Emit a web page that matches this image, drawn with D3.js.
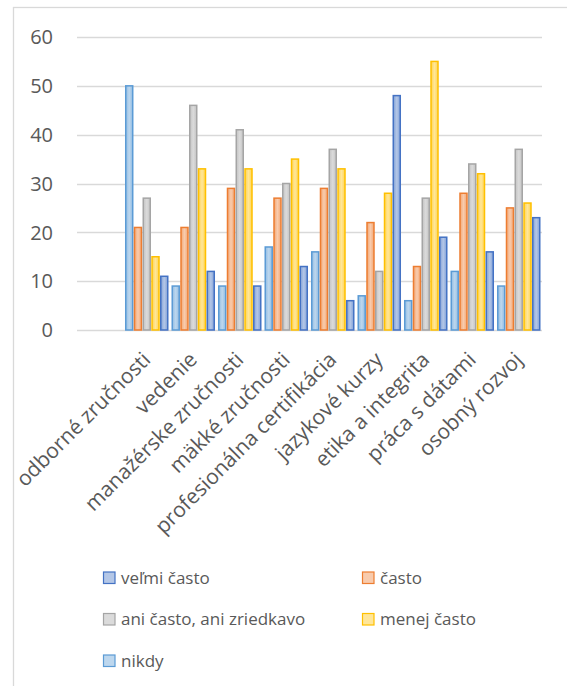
<!DOCTYPE html>
<html>
<head>
<meta charset="utf-8">
<script src="https://cdn.jsdelivr.net/npm/d3@7"></script>
<style>
  body { margin: 0; background: #fff; }
  text { font-family: "Segoe UI", "Open Sans", "Noto Sans", sans-serif; fill: #595959; }
</style>
</head>
<body>
<svg id="chart"></svg>
<script>
// --- DATA ---
const categories = ["odborné zručnosti", "vedenie", "manažérske zručnosti", "mäkké zručnosti",
    "profesionálna certifikácia", "jazykové kurzy", "etika a integrita", "práca s dátami", "osobný rozvoj"];
const seriesNames = ["nikdy", "často", "ani často, ani zriedkavo", "menej často", "veľmi často"];
const nikdy = [50, 9, 9, 17, 16, 7, 6, 12, 9];
const casto = [21, 21, 29, 27, 29, 22, 13, 28, 25];
const aniAni = [27, 46, 41, 30, 37, 12, 27, 34, 37];
const menejCasto = [15, 33, 33, 35, 33, 28, 55, 32, 26];
const velmiCasto = [11, 12, 9, 13, 6, 48, 19, 16, 23];
const legendOrder = ["veľmi často", "často", "ani často, ani zriedkavo", "menej často", "nikdy"];
const yTicks = [0, 10, 20, 30, 40, 50, 60];

const seriesValues = [nikdy, casto, aniAni, menejCasto, velmiCasto];

// colours: [stroke, fill light]
const colors = {
    "nikdy": ["#5B9BD5", "#BDD7EE"],
    "často": ["#ED7D31", "#F8CBAD"],
    "ani často, ani zriedkavo": ["#A5A5A5", "#DBDBDB"],
    "menej často": ["#FFC000", "#FFE699"],
    "veľmi často": ["#4472C4", "#B4C7E7"]
};

// --- SETUP ---
const W = 567, H = 686;
const svg = d3.select("#chart").attr("width", W).attr("height", H);

// chart border (runs off the right edge)
svg.append("rect")
    .attr("x", 13.5).attr("y", 7.5)
    .attr("width", 600).attr("height", 700)
    .attr("fill", "none").attr("stroke", "#D9D9D9").attr("stroke-width", 1.3);

const gridLeft = 77, plotRight = 542;
// first band stays empty, as in the original sheet
const x0 = d3.scaleBand().domain(["", ...categories]).range([gridLeft, plotRight]).paddingInner(0).paddingOuter(0);
const x1 = d3.scaleBand().domain(seriesNames).range([0, x0.bandwidth()]).paddingInner(0.03).paddingOuter(0.17);
const y = d3.scaleLinear().domain([0, 60]).range([330, 37]);

// gradients
const defs = svg.append("defs");
seriesNames.forEach((s, i) => {
    const g = defs.append("linearGradient").attr("id", "grad" + i)
        .attr("x1", "0%").attr("x2", "100%").attr("y1", "0%").attr("y2", "0%");
    const mid = d3.interpolateRgb(colors[s][0], colors[s][1])(0.55);
    g.append("stop").attr("offset", "0%").attr("stop-color", mid);
    g.append("stop").attr("offset", "50%").attr("stop-color", colors[s][1]);
    g.append("stop").attr("offset", "100%").attr("stop-color", mid);
});

// gridlines
svg.append("g").selectAll("line").data(yTicks).join("line")
    .attr("x1", gridLeft).attr("x2", plotRight)
    .attr("y1", d => Math.round(y(d)) + 0.5).attr("y2", d => Math.round(y(d)) + 0.5)
    .attr("stroke", "#D9D9D9").attr("stroke-width", 1.3);

// y labels
svg.append("g").selectAll("text").data(yTicks).join("text")
    .attr("x", 53).attr("y", d => y(d))
    .attr("dy", "0.36em")
    .attr("text-anchor", "end")
    .style("font-size", "20px")
    .text(d => d);

// bars
const groups = svg.append("g").selectAll("g").data(categories).join("g")
    .attr("transform", d => `translate(${x0(d)},0)`);

groups.selectAll("rect")
    .data((d, ci) => seriesNames.map((s, si) => ({ s, si, v: seriesValues[si][ci] })))
    .join("rect")
    .attr("x", d => x1(d.s) + 0.75)
    .attr("width", x1.bandwidth() - 1.5)
    .attr("y", d => y(d.v))
    .attr("height", d => y(0) - y(d.v))
    .attr("fill", d => `url(#grad${d.si})`)
    .attr("stroke", d => colors[d.s][0])
    .attr("stroke-width", 1.5);

// x labels
svg.append("g").selectAll("text").data(categories).join("text")
    .attr("transform", d => `translate(${x0(d) + x0.bandwidth() / 2 + 5},${361}) rotate(-45)`)
    .attr("text-anchor", "end")
    .style("font-size", "21px")
    .text(d => d);

// legend
const legend = svg.append("g");
legendOrder.forEach((s, i) => {
    const col = i % 2, row = Math.floor(i / 2);
    const lx = col === 0 ? 103 : 362;
    const ly = 578 + row * 41.5;
    legend.append("rect")
        .attr("x", lx + 0.5).attr("y", ly - 6)
        .attr("width", 11.5).attr("height", 11.5)
        .attr("fill", colors[s][1])
        .attr("stroke", colors[s][0]).attr("stroke-width", 1.2);
    legend.append("text")
        .attr("x", lx + 18).attr("y", ly)
        .attr("dy", "0.35em")
        .style("font-size", "17px")
        .text(s);
});
</script>
</body>
</html>
